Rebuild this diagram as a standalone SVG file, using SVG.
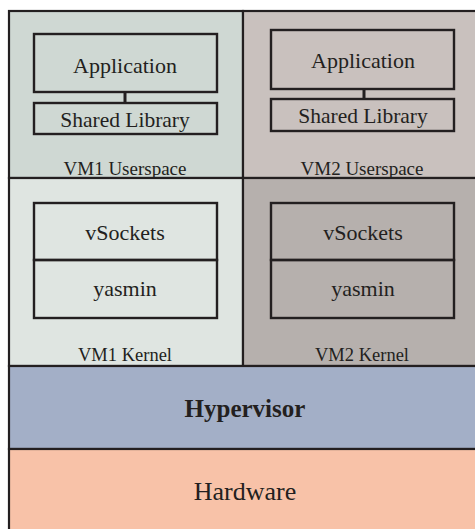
<svg xmlns="http://www.w3.org/2000/svg" width="475" height="529" viewBox="0 0 475 529">
<style>
.lbl{font-family:"Liberation Serif","DejaVu Serif",serif;fill:#231f20;text-anchor:middle}
.area{stroke:#231f20;stroke-width:2.2}
.box{fill:none;stroke:#231f20;stroke-width:2.4}
</style>
<rect width="475" height="529" fill="#ffffff"/>
<g id="vm1-userspace">
<rect class="area" x="9" y="11" width="234" height="167" fill="#cfd8d3"/>
<text class="lbl" x="125" y="175" font-size="19">VM1 Userspace</text>
</g>
<g id="vm2-userspace">
<rect class="area" x="243" y="11" width="234" height="167" fill="#c9c1be"/>
<text class="lbl" x="362" y="175" font-size="19">VM2 Userspace</text>
</g>
<g id="vm1-kernel">
<rect class="area" x="9" y="178" width="234" height="188" fill="#dfe5e1"/>
<text class="lbl" x="125" y="361" font-size="18.5">VM1 Kernel</text>
</g>
<g id="vm2-kernel">
<rect class="area" x="243" y="178" width="234" height="188" fill="#b6b0ad"/>
<text class="lbl" x="362" y="361" font-size="18.5">VM2 Kernel</text>
</g>
<g id="hypervisor">
<rect class="area" x="9" y="366" width="468" height="83" fill="#a3afc7"/>
<text class="lbl" x="245" y="417" font-size="25" font-weight="bold">Hypervisor</text>
</g>
<g id="hardware">
<rect class="area" x="9" y="449" width="468" height="82" fill="#f8c2a8"/>
<text class="lbl" x="245" y="500" font-size="26">Hardware</text>
</g>
<g id="vm1-application">
<rect class="box" x="34" y="34" width="183" height="58"/>
<text class="lbl" x="125" y="73" font-size="22">Application</text>
</g>
<g id="vm1-shared-library">
<rect class="box" x="34" y="103" width="183" height="31"/>
<text class="lbl" x="125" y="127" font-size="21.5">Shared Library</text>
</g>
<g id="vm2-application">
<rect class="box" x="271" y="30" width="183" height="59"/>
<text class="lbl" x="363" y="68" font-size="22">Application</text>
</g>
<g id="vm2-shared-library">
<rect class="box" x="271" y="99" width="183" height="32"/>
<text class="lbl" x="363" y="123" font-size="21.5">Shared Library</text>
</g>
<g id="vm1-vsockets">
<rect class="box" x="34" y="203" width="183" height="57"/>
<text class="lbl" x="125" y="240" font-size="22">vSockets</text>
</g>
<g id="vm1-yasmin">
<rect class="box" x="34" y="260" width="183" height="58"/>
<text class="lbl" x="125" y="296" font-size="22">yasmin</text>
</g>
<g id="vm2-vsockets">
<rect class="box" x="271" y="203" width="183" height="57"/>
<text class="lbl" x="363" y="240" font-size="22">vSockets</text>
</g>
<g id="vm2-yasmin">
<rect class="box" x="271" y="260" width="183" height="58"/>
<text class="lbl" x="363" y="296" font-size="22">yasmin</text>
</g>
<g id="connectors" stroke="#231f20" stroke-width="3">
<line x1="125" y1="92" x2="125" y2="103"/>
<line x1="364" y1="89" x2="364" y2="99"/>
</g>
</svg>
